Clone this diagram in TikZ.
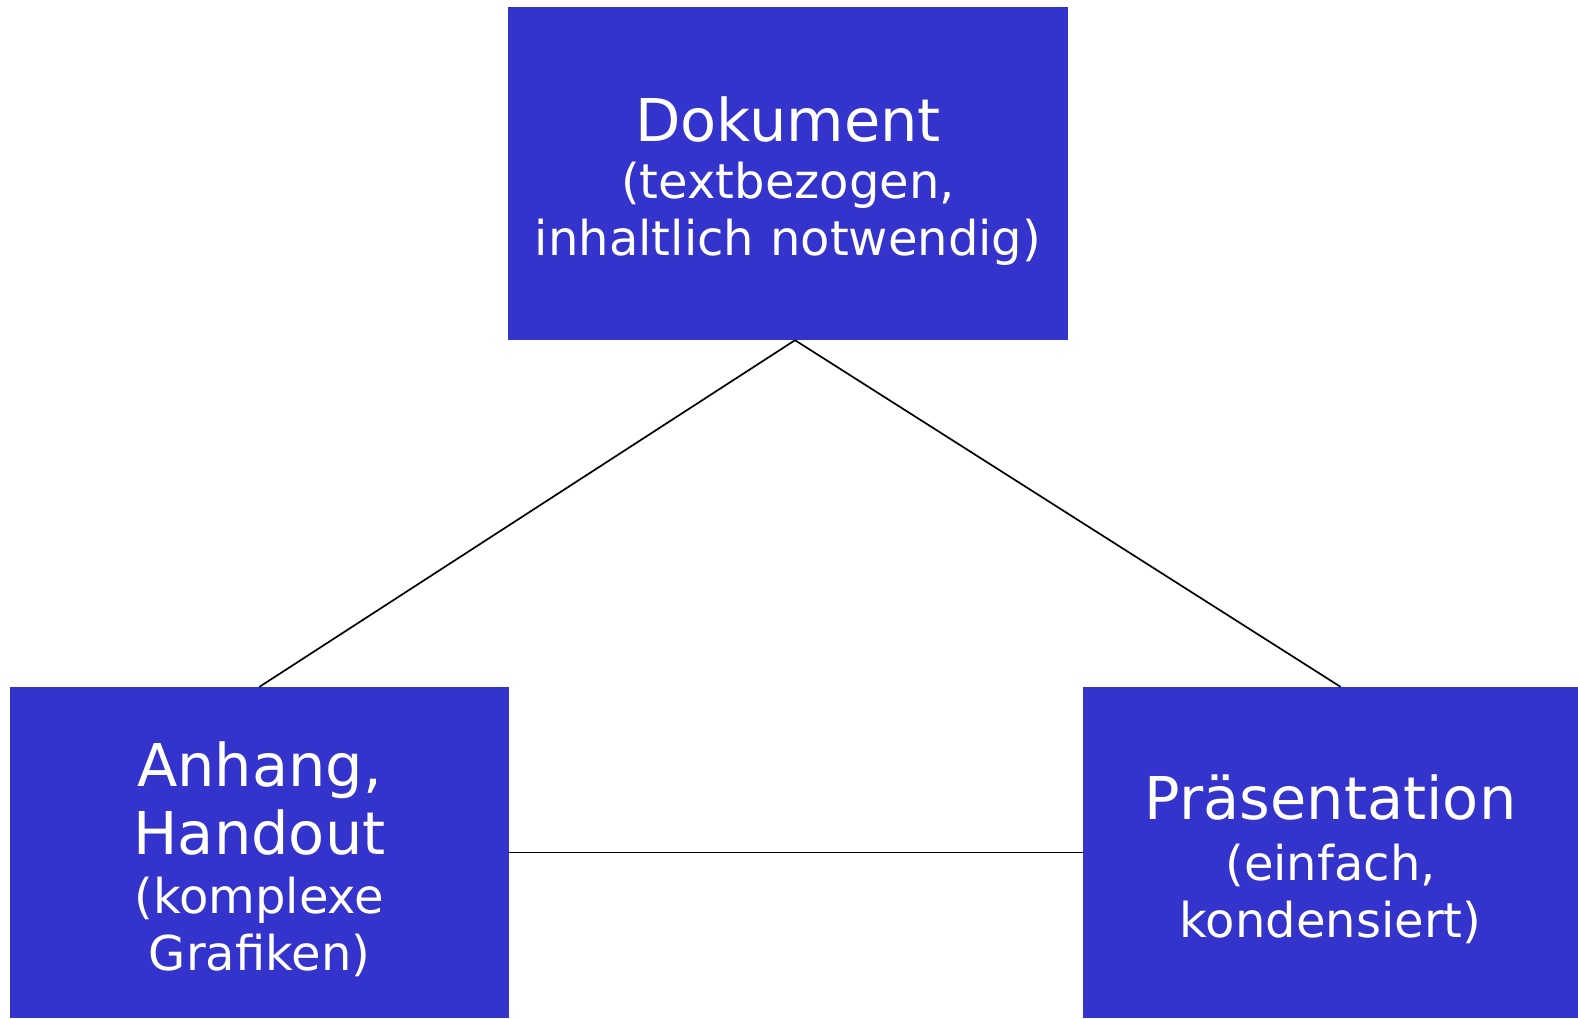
\documentclass[tikz,border=0pt]{standalone}
\usepackage{fontspec}
\setmainfont{DejaVu Sans}
\definecolor{boxblue}{RGB}{52,52,204}
\newcommand{\titlefont}{\fontsize{59}{70}\selectfont}
\newcommand{\notefont}{\fontsize{48}{57}\selectfont}
\newcommand{\lift}{\rule{0pt}{59pt}}
\begin{document}
\begin{tikzpicture}[x=1pt,y=-1pt,
    block/.style={fill=boxblue,text=white,inner sep=0pt,align=center,font=\notefont},
    link/.style={draw=black,line width=1.7pt}]
  \useasboundingbox (0,0) rectangle (1578,1018);
  \node[block,text width=560pt,minimum height=333pt] (doc) at (788,173.5)
    {{\titlefont\lift Dokument}\\ (textbezogen,\\ inhaltlich notwendig)};
  \node[block,text width=499pt,minimum height=331pt] (anh) at (259.5,852.5)
    {{\titlefont\lift Anhang,}\\[10pt] {\titlefont Handout}\\[2pt] (komplexe\\ Grafiken)};
  \node[block,text width=495pt,minimum height=331pt] (pres) at (1330.5,852.5)
    {{\titlefont\lift Präsentation}\\[4pt] (einfach,\\ kondensiert)};
  \begin{scope}[link]
    \draw ([xshift=7pt]doc.south) to (anh.north);
    \draw ([xshift=7pt]doc.south) to ([xshift=10pt]pres.north);
    \draw (anh.east) to (pres.west);
  \end{scope}
\end{tikzpicture}
\end{document}
